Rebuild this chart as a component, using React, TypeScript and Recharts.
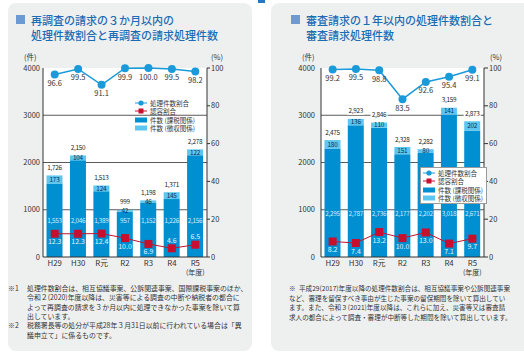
import React from "react";
import {
  ComposedChart,
  Bar,
  Line,
  XAxis,
  YAxis,
  CartesianGrid,
  LabelList,
} from "recharts";

const years = ["H29", "H30", "R元", "R2", "R3", "R4", "R5"];

// 再調査の請求
const reTaxCounts = [1553, 2046, 1389, 957, 1152, 1226, 2156];
const reCollectCounts = [173, 104, 124, 42, 46, 145, 122];
const reTotals = [1726, 2150, 1513, 999, 1198, 1371, 2278];
const reProcessRate = [96.6, 99.5, 91.1, 99.9, 100.0, 99.5, 98.2];
const reApproveRate = [12.3, 12.3, 12.4, 10.0, 6.9, 4.6, 6.5];

// 審査請求
const exTaxCounts = [2295, 2787, 2736, 2177, 2202, 3018, 2671];
const exCollectCounts = [180, 136, 110, 151, 80, 141, 202];
const exTotals = [2475, 2923, 2846, 2328, 2282, 3159, 2873];
const exProcessRate = [99.2, 99.5, 98.8, 83.5, 92.6, 95.4, 99.1];
const exApproveRate = [8.2, 7.4, 13.2, 10.0, 13.0, 7.1, 9.7];

const countTicks = [0, 1000, 2000, 3000, 4000];
const rateTicks = [0, 20, 40, 60, 80, 100];

const FONT = '"Noto Sans CJK JP", "Noto Sans", sans-serif';
const DARK_BLUE = "#0090d2";
const LIGHT_BLUE = "#5cc6f0";
const LINE_BLUE = "#1a9ad9";
const RED = "#c8102e";

const buildRows = (
  tax: number[],
  collect: number[],
  total: number[],
  proc: number[],
  appr: number[]
) =>
  years.map((year, i) => ({
    year,
    tax: tax[i],
    collect: collect[i],
    total: total[i],
    proc: proc[i],
    appr: appr[i],
  }));

const reRows = buildRows(reTaxCounts, reCollectCounts, reTotals, reProcessRate, reApproveRate);
const exRows = buildRows(exTaxCounts, exCollectCounts, exTotals, exProcessRate, exApproveRate);

const fmt = (v: number) => v.toLocaleString("en-US");

const YearTick = (props: any) => {
  const { x, y, payload } = props;
  return (
    <g fontFamily={FONT} fill="#333">
      <text x={x} y={y + 8.5} textAnchor="middle" fontSize={7.8}>
        {payload.value}
      </text>
      {payload.index === years.length - 1 && (
        <text x={x} y={y + 18} textAnchor="middle" fontSize={7}>
          (年度)
        </text>
      )}
    </g>
  );
};

const SquareDot = (props: any) => {
  const { cx, cy } = props;
  if (cx == null || cy == null) return null;
  return <rect x={cx - 4} y={cy - 4} width={8} height={8} fill={RED} />;
};

type ChartProps = {
  rows: ReturnType<typeof buildRows>;
  left: number;
  axisW: [number, number];
  leftMargin: number;
  rightTick: [number, number];
  taxRise: number;
  approveAbove: number[];
};

function CountChart({ rows, left, axisW, leftMargin, rightTick, taxRise, approveAbove }: ChartProps) {
  return (
    <div style={{ position: "absolute", left, top: 0 }}>
      <ComposedChart
        width={262}
        height={290}
        data={rows}
        margin={{ top: 68, right: 0, bottom: 0, left: 0 }}
        barCategoryGap="15%"
      >
        <CartesianGrid
          yAxisId="count"
          vertical={false}
          horizontalValues={[1000, 2000, 3000]}
          stroke="#5a5a5a"
          fill="#fff"
          fillOpacity={1}
        />
        <XAxis
          dataKey="year"
          height={33}
          axisLine={{ stroke: "#333" }}
          tickLine={false}
          tickSize={0}
          tickMargin={0}
          interval={0}
          tick={<YearTick />}
        />
        <YAxis
          yAxisId="count"
          domain={[0, 4000]}
          ticks={countTicks}
          width={axisW[0]}
          axisLine={{ stroke: "#333" }}
          tickLine={false}
          tickSize={0}
          tickMargin={leftMargin}
          tick={{ fontSize: 7.5, fill: "#333", fontFamily: FONT }}
        />
        <YAxis
          yAxisId="rate"
          orientation="right"
          domain={[0, 100]}
          ticks={rateTicks}
          width={axisW[1]}
          axisLine={{ stroke: "#333" }}
          tickLine={{ stroke: "#333" }}
          tickSize={rightTick[0]}
          tickMargin={rightTick[1]}
          tick={{ fontSize: 7.5, fill: "#333", fontFamily: FONT, textAnchor: "start" }}
        />
        <Bar yAxisId="count" dataKey="tax" stackId="n" fill={DARK_BLUE} isAnimationActive={false}>
          <LabelList
            dataKey="tax"
            content={(p: any) => (
              <text
                x={p.x + p.width / 2}
                y={p.y + p.height - taxRise}
                textAnchor="middle"
                fontSize={6.4}
                letterSpacing={-0.3}
                fontFamily={FONT}
                fill="#d6ebfa"
              >
                {fmt(p.value)}
              </text>
            )}
          />
        </Bar>
        <Bar yAxisId="count" dataKey="collect" stackId="n" fill={LIGHT_BLUE} isAnimationActive={false}>
          <LabelList
            dataKey="collect"
            content={(p: any) => (
              <text
                x={p.x + p.width / 2}
                y={p.y + p.height / 2 + 2.3}
                textAnchor="middle"
                fontSize={6.4}
                letterSpacing={-0.2}
                fontFamily={FONT}
                fill="#0b2f55"
              >
                {fmt(p.value)}
              </text>
            )}
          />
          <LabelList
            dataKey="total"
            content={(p: any) => (
              <g>
                <rect x={p.x + p.width / 2 - 8.5} y={p.y - 11.5} width={17} height={7.5} fill="#fff" />
                <text
                  x={p.x + p.width / 2}
                  y={p.y - 5.5}
                  textAnchor="middle"
                  fontSize={6.4}
                  letterSpacing={-0.3}
                  fontFamily={FONT}
                  fill="#222"
                >
                  {fmt(p.value)}
                </text>
              </g>
            )}
          />
        </Bar>
        <Line
          yAxisId="rate"
          dataKey="proc"
          stroke={LINE_BLUE}
          strokeWidth={1.5}
          dot={{ r: 4, fill: LINE_BLUE, stroke: "none" }}
          isAnimationActive={false}
        >
          <LabelList
            dataKey="proc"
            content={(p: any) => (
              <text
                x={p.x}
                y={p.y + 11.5}
                textAnchor="middle"
                fontSize={7.5}
                fontFamily={FONT}
                fill="#333"
              >
                {Number(p.value).toFixed(1)}
              </text>
            )}
          />
        </Line>
        <Line
          yAxisId="rate"
          dataKey="appr"
          stroke={RED}
          strokeWidth={1}
          dot={<SquareDot />}
          isAnimationActive={false}
        >
          <LabelList
            dataKey="appr"
            content={(p: any) => (
              <text
                x={p.x}
                y={approveAbove.includes(p.index) ? p.y - 5.5 : p.y + 10.5}
                textAnchor="middle"
                fontSize={7}
                fontFamily={FONT}
                fill="#e6f3fc"
              >
                {Number(p.value).toFixed(1)}
              </text>
            )}
          />
        </Line>
      </ComposedChart>
    </div>
  );
}

const legendItems = [
  { label: "処理件数割合", kind: "circle", color: LINE_BLUE },
  { label: "認容割合", kind: "square", color: RED },
  { label: "件数 (課税関係)", kind: "rect", color: DARK_BLUE },
  { label: "件数 (徴収関係)", kind: "rect", color: LIGHT_BLUE },
];

function LegendBox({ left, top, boxed }: { left: number; top: number; boxed: boolean }) {
  return (
    <div
      style={{
        position: "absolute",
        left,
        top,
        width: boxed ? 63 : 70,
        padding: boxed ? "1px 0 1px 2px" : 0,
        background: boxed ? "#fff" : "transparent",
        border: boxed ? "1px solid #9a9a9a" : "none",
        fontFamily: FONT,
        fontSize: 6.5,
        color: "#333",
        lineHeight: "8.3px",
      }}
    >
      {legendItems.map((it) => (
        <div key={it.label} style={{ display: "flex", alignItems: "center", height: 8.3, whiteSpace: "nowrap" }}>
          <svg width={13} height={8} style={{ marginRight: 2, flex: "none" }}>
            {it.kind === "rect" ? (
              <rect x={0} y={1.5} width={12} height={5} fill={it.color} />
            ) : (
              <g>
                <line x1={0} x2={12} y1={4} y2={4} stroke={it.color} strokeWidth={1} />
                {it.kind === "circle" ? (
                  <circle cx={6} cy={4} r={2.6} fill={it.color} />
                ) : (
                  <rect x={3.5} y={1.5} width={5} height={5} fill={it.color} />
                )}
              </g>
            )}
          </svg>
          <span>{it.label}</span>
        </div>
      ))}
    </div>
  );
}

function Title({ left, lines }: { left: number; lines: string[] }) {
  return (
    <>
      <div style={{ position: "absolute", left, top: 15, width: 9, height: 9, background: "#6c9bd2" }} />
      {lines.map((t, i) => (
        <div
          key={t}
          style={{
            position: "absolute",
            left: left + 15,
            top: 12.5 + i * 15,
            fontFamily: FONT,
            fontSize: 11,
            lineHeight: "15px",
            fontWeight: 500,
            color: "#1b6cb4",
            whiteSpace: "nowrap",
          }}
        >
          {t}
        </div>
      ))}
    </>
  );
}

const Txt = ({ x, y, size, children, color = "#333" }: any) => (
  <div
    style={{
      position: "absolute",
      left: x,
      top: y,
      fontFamily: FONT,
      fontSize: size,
      lineHeight: "9px",
      color,
      whiteSpace: "nowrap",
    }}
  >
    {children}
  </div>
);

const leftNote1 = [
  "処理件数割合は、相互協議事案、公訴関連事案、国際課税事案のほか、",
  "令和２(2020)年度以降は、災害等による調査の中断や納税者の都合に",
  "よって再調査の請求を３か月以内に処理できなかった事案を除いて算",
  "出しています。",
];
const leftNote2 = ["税務署長等の処分が平成28年３月31日以前に行われている場合は「異", "議申立て」に係るものです。"];
const rightNote = [
  "平成29(2017)年度以降の処理件数割合は、相互協議事案や公訴関連事案",
  "など、審理を留保すべき事由が生じた事案の留保期間を除いて算出してい",
  "ます。また、令和３(2021)年度以降は、これらに加え、災害等又は審査請",
  "求人の都合によって調査・審理が中断等した期間を除いて算出しています。",
];

export default function App() {
  return (
    <div
      style={{
        position: "absolute",
        left: 0,
        top: 0,
        width: 524,
        height: 353,
        background: "#fff",
        overflow: "hidden",
      }}
    >
      <div style={{ position: "absolute", left: 8, top: 3, width: 244, height: 348, background: "#eef0f0", borderRadius: 8 }} />
      <div style={{ position: "absolute", left: 271, top: 3, width: 270, height: 348, background: "#eef0f0", borderRadius: 8 }} />
      <div style={{ position: "absolute", left: 258, top: 0, width: 7, height: 3, background: "#1f78c8" }} />

      <Title left={16} lines={["再調査の請求の３か月以内の", "処理件数割合と再調査の請求処理件数"]} />
      <Title left={291} lines={["審査請求の１年以内の処理件数割合と", "審査請求処理件数"]} />

      <CountChart
        rows={reRows}
        left={0}
        axisW={[43, 55]}
        leftMargin={3}
        rightTick={[3, 1]}
        taxRise={34}
        approveAbove={[5, 6]}
      />
      <CountChart
        rows={exRows}
        left={262}
        axisW={[59, 40]}
        leftMargin={6}
        rightTick={[4, 1]}
        taxRise={41.5}
        approveAbove={[]}
      />

      <Txt x={24} y={51.5} size={7.5}>(件)</Txt>
      <Txt x={211} y={51.5} size={7.5}>(%)</Txt>
      <Txt x={302} y={51.5} size={7.5}>(件)</Txt>
      <Txt x={490} y={51.5} size={7.5}>(%)</Txt>

      <LegendBox left={135} top={99} boxed={false} />
      <LegendBox left={420} top={167} boxed={true} />

      <Txt x={8} y={284} size={6.9}>※1</Txt>
      {leftNote1.map((t, i) => (
        <Txt key={t} x={27} y={284 + i * 9.3} size={6.9}>{t}</Txt>
      ))}
      <Txt x={8} y={284 + 4 * 9.3} size={6.9}>※2</Txt>
      {leftNote2.map((t, i) => (
        <Txt key={t} x={27} y={284 + (4 + i) * 9.3} size={6.9}>{t}</Txt>
      ))}

      <Txt x={289} y={284} size={6.6}>※</Txt>
      {rightNote.map((t, i) => (
        <Txt key={t} x={i === 0 ? 299 : 289} y={284 + i * 9.7} size={6.6}>{t}</Txt>
      ))}
    </div>
  );
}
